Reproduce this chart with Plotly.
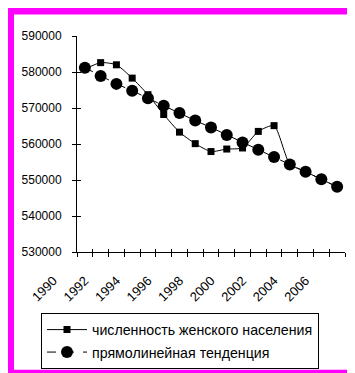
import plotly.graph_objects as go

years = list(range(1990, 2007))
female_pop = [580800, 582600, 582000, 578300, 573700, 568200, 563300, 560100,
              557900, 558600, 558900, 563500, 565100, 554400, 552300, 550200, 548100]
trend = [581200, 578900, 576700, 574800, 572700, 570600, 568600, 566500,
         564600, 562500, 560400, 558400, 556400, 554300, 552300, 550200, 548100]
tick_labels = ["1990", "1992", "1994", "1996", "1998", "2000", "2002", "2004", "2006"]
label_years = [1990, 1992, 1994, 1996, 1998, 2000, 2002, 2004, 2006]
y_ticks = [530000, 540000, 550000, 560000, 570000, 580000, 590000]

FONT = "Liberation Sans, Arial, sans-serif"
W, H = 355, 373
L, R, T, B = 30, 18, 28, 125          # outer plot region (includes room for shifted labels)
AX_LEFT = 69                           # pixel of the visible y axis
pw, ph = W - L - R, H - T - B
d0 = (AX_LEFT - L) / pw

xr = [years[0] - 0.5, years[-1] + 0.5]
units_per_px = (xr[1] - xr[0]) / (pw * (1 - d0))
xr_wide = [xr[0] - (AX_LEFT - L) * units_per_px, xr[1]]
yr = [530000, 590000]
boundaries = [y - 0.5 for y in years] + [years[-1] + 0.5]
label_shift = 2.0

fig = go.Figure()
fig.add_trace(go.Scatter(
    x=years, y=female_pop, mode="lines+markers",
    name="численность женского населения",
    line=dict(color="black", width=1, shape="spline", smoothing=0.6),
    marker=dict(symbol="square", size=7, color="black"),
    legendgroup="a",
))
fig.add_trace(go.Scatter(
    x=years, y=trend, mode="lines+markers",
    name="прямолинейная тенденция",
    line=dict(color="black", width=1, dash="dash"),
    marker=dict(symbol="circle", size=12, color="black"),
    legendgroup="b",
))
# helper (empty) traces so the extra axes are drawn
fig.add_trace(go.Scatter(x=[], y=[], xaxis="x2", yaxis="y2", showlegend=False, hoverinfo="skip"))
fig.add_trace(go.Scatter(x=[], y=[], xaxis="x3", yaxis="y", showlegend=False, hoverinfo="skip"))

fig.update_layout(
    width=W, height=H,
    margin=dict(l=L, r=R, t=T, b=B, pad=0),
    paper_bgcolor="#FF00FF",
    plot_bgcolor="rgba(0,0,0,0)",
    font=dict(family=FONT, size=12, color="black"),
    showlegend=True,
    xaxis=dict(domain=[d0, 1], range=xr, tickmode="array", tickvals=boundaries,
               ticktext=[""] * len(boundaries), ticks="outside", ticklen=4,
               tickcolor="black", tickwidth=1, showline=True, linecolor="black",
               linewidth=1, showgrid=False, zeroline=False, fixedrange=True),
    xaxis2=dict(range=xr, overlaying="x", anchor="y2", side="bottom",
                tickmode="array", tickvals=boundaries, ticktext=[""] * len(boundaries),
                ticks="inside", ticklen=3, tickcolor="black", tickwidth=1,
                showline=False, showgrid=False, zeroline=False),
    xaxis3=dict(domain=[0, 1], range=xr_wide, anchor="y", side="bottom",
                tickmode="array", tickvals=[v - label_shift for v in label_years],
                ticktext=tick_labels, ticks="outside", ticklen=15, tickcolor="rgba(0,0,0,0)",
                tickangle=-45,
                tickfont=dict(size=13), showline=False, showgrid=False, zeroline=False),
    yaxis=dict(range=yr, anchor="x", tickmode="array", tickvals=y_ticks,
               ticktext=[str(v) for v in y_ticks], ticks="outside", ticklen=4,
               tickcolor="black", tickwidth=1, showline=True, linecolor="black",
               linewidth=1, showgrid=False, zeroline=False, ticklabelstandoff=8,
               tickfont=dict(size=12)),
    yaxis2=dict(range=yr, overlaying="y", anchor="x", side="left",
                tickmode="array", tickvals=y_ticks, ticktext=[""] * len(y_ticks),
                ticks="inside", ticklen=4, tickcolor="black", tickwidth=1,
                showline=False, showgrid=False, zeroline=False),
    legend=dict(x=(33 - L) / pw, y=(H - B - 310) / ph, xanchor="left", yanchor="top",
                bgcolor="white", bordercolor="black", borderwidth=1,
                font=dict(size=14.2, family=FONT), traceorder="grouped",
                tracegroupgap=1, itemwidth=40),
    shapes=[dict(type="rect", xref="paper", yref="paper", layer="below",
                 x0=(6 - L) / pw, x1=(349 - L) / pw,
                 y0=(H - B - 368) / ph, y1=(H - B - 6) / ph,
                 fillcolor="white", line=dict(width=0))],
)

fig.write_html("out.html")
